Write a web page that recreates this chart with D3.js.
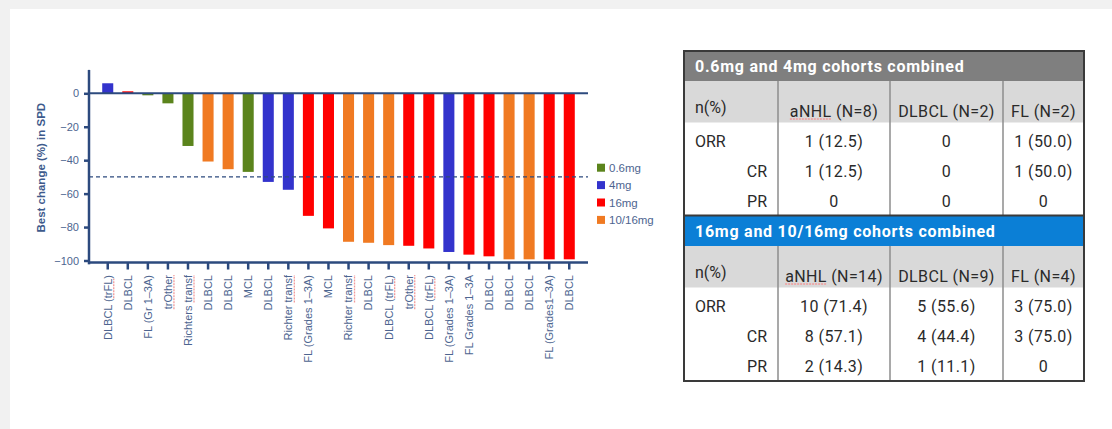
<!DOCTYPE html>
<html>
<head>
<meta charset="utf-8">
<script src="https://cdn.jsdelivr.net/npm/d3@7"></script>
<style>
html, body { margin: 0; padding: 0; background: #f1f1f1; }
svg { display: block; }
</style>
</head>
<body>
<svg id="chart" width="1112" height="429"></svg>
<script>
// waterfall data, one entry per patient
var categories = ["DLBCL (trFL)", "DLBCL", "FL (Gr 1\u20133A)", "trOther", "Richters transf", "DLBCL",
    "DLBCL", "MCL", "DLBCL", "Richter transf", "FL (Grades 1\u20133A)", "MCL", "Richter transf", "DLBCL",
    "DLBCL (trFL)", "trOther", "DLBCL (trFL)", "FL (Grades 1\u20133A)", "FL Grades 1\u20133A", "DLBCL",
    "DLBCL", "DLBCL", "FL (Grades1\u20133A)", "DLBCL"];
var cohortOf = ["4mg", "16mg", "0.6mg", "0.6mg", "0.6mg", "10/16mg", "10/16mg", "0.6mg", "4mg", "4mg",
    "16mg", "16mg", "10/16mg", "10/16mg", "10/16mg", "16mg", "16mg", "4mg", "16mg", "16mg",
    "10/16mg", "10/16mg", "16mg", "16mg"];
var bestChange = [6, 1.2, -1.2, -6, -31.5, -40.8, -45.4, -47, -53, -57.7, -73.3, -80.8, -88.8, -89.4,
    -90.8, -91.2, -92.8, -94.9, -96.5, -97.5, -99.3, -99.3, -99.3, -99.3];
var cohortNames = ["0.6mg", "4mg", "16mg", "10/16mg"];
var cohortColors = ["#5b841c", "#3333cc", "#ff0000", "#f07a22"];
var yTickValues = [0, -20, -40, -60, -80, -100];
var responseLine = -50;

// response tables
var tableColumns1 = ["aNHL (N=8)", "DLBCL (N=2)", "FL (N=2)"];
var tableColumns2 = ["aNHL (N=14)", "DLBCL (N=9)", "FL (N=4)"];
var responseRows = ["ORR", "CR", "PR"];
var tableValues1 = [["1 (12.5)", "0", "1 (50.0)"], ["1 (12.5)", "0", "1 (50.0)"], ["0", "0", "0"]];
var tableValues2 = [["10 (71.4)", "5 (55.6)", "3 (75.0)"], ["8 (57.1)", "4 (44.4)", "3 (75.0)"], ["2 (14.3)", "1 (11.1)", "0"]];

var flagged = ["trFL", "trOther", "transf", "aNHL"];   // words with the red spell-check line

var axisColor = "#2c4a7e";
var labelColor = "#4d6590";

var svg = d3.select("#chart");
svg.append("rect").attr("x", 10).attr("y", 9).attr("width", 1102).attr("height", 420).attr("fill", "#fff");

var color = d3.scaleOrdinal().domain(cohortNames).range(cohortColors);

var x = d3.scaleBand()
    .domain(d3.range(categories.length))
    .range([97.7, 579.3])
    .paddingInner(0.45)
    .paddingOuter(0.225);

var y = d3.scaleLinear().domain([-100, 0]).range([260.5, 93.3]);

var left = 89, right = 588;

// underline flagged words of an svg text node
function spellMark(parent, node, yPx, transform) {
    var s = node.textContent;
    flagged.forEach(function (w) {
        var k = s.indexOf(w);
        if (k < 0) return;
        var a = node.getStartPositionOfChar(k).x;
        var b = node.getEndPositionOfChar(k + w.length - 1).x;
        parent.append("line")
            .attr("x1", a).attr("x2", b)
            .attr("y1", yPx).attr("y2", yPx)
            .attr("transform", transform)
            .attr("stroke", "#f29b9b").attr("stroke-width", 1.3)
            .attr("stroke-dasharray", "2,1");
    });
}

// bars
svg.append("g").selectAll("rect")
    .data(bestChange)
    .enter()
    .append("rect")
    .attr("x", function (d, i) { return x(i); })
    .attr("width", x.bandwidth())
    .attr("y", function (d) { return y(Math.max(0, d)); })
    .attr("height", function (d) { return Math.abs(y(d) - y(0)); })
    .attr("fill", function (d, i) { return color(cohortOf[i]); });

// y axis
var yAxis = svg.append("g")
    .attr("transform", "translate(" + left + ",0)")
    .call(d3.axisLeft(y).tickValues(yTickValues).tickSize(5).tickPadding(5));
yAxis.select(".domain").remove();
yAxis.selectAll("line").attr("stroke", axisColor).attr("stroke-width", 2.5);
yAxis.selectAll("text")
    .attr("fill", labelColor)
    .style("font", "11px 'Liberation Sans', Arial, sans-serif");

svg.append("line")
    .attr("x1", left).attr("x2", left)
    .attr("y1", y(14)).attr("y2", y(-102.3))
    .attr("stroke", axisColor).attr("stroke-width", 2.5);

// zero line
svg.append("line")
    .attr("x1", left).attr("x2", right)
    .attr("y1", y(0)).attr("y2", y(0))
    .attr("stroke", axisColor).attr("stroke-width", 2);

// -50% line
svg.append("line")
    .attr("x1", left).attr("x2", right)
    .attr("y1", y(responseLine)).attr("y2", y(responseLine))
    .attr("stroke", axisColor).attr("stroke-width", 1.2)
    .attr("stroke-dasharray", "4,3");

// x axis
var xAxis = svg.append("g")
    .attr("transform", "translate(0," + y(-101.2) + ")")
    .call(d3.axisBottom(x).tickSize(7).tickFormat(function (i) { return categories[i]; }));
xAxis.select(".domain").remove();
xAxis.selectAll("line").attr("stroke", axisColor).attr("stroke-width", 2.5);
xAxis.selectAll("text")
    .attr("fill", labelColor)
    .style("font", "11px 'Liberation Sans', Arial, sans-serif")
    .attr("transform", "rotate(-90)")
    .attr("text-anchor", "end")
    .attr("x", -12.5)
    .attr("y", 0)
    .attr("dy", "0.35em");
xAxis.selectAll(".tick").each(function () {
    var t = d3.select(this);
    spellMark(t, t.select("text").node(), 6, "rotate(-90)");
});

svg.append("line")
    .attr("x1", left).attr("x2", right)
    .attr("y1", y(-101.2)).attr("y2", y(-101.2))
    .attr("stroke", axisColor).attr("stroke-width", 2.5);

// y title
svg.append("text")
    .attr("transform", "translate(41," + y(-44.5) + ") rotate(-90)")
    .attr("text-anchor", "middle")
    .attr("dy", "0.35em")
    .attr("fill", "#3d5a8c")
    .style("font", "bold 11.5px 'Liberation Sans', Arial, sans-serif")
    .text("Best change (%) in SPD");

// legend
var legend = svg.append("g").selectAll("g")
    .data(cohortNames)
    .enter()
    .append("g")
    .attr("transform", function (d, i) { return "translate(597," + (167.7 + i * 17.4) + ")"; });
legend.append("rect")
    .attr("x", 0).attr("y", -4).attr("width", 8).attr("height", 8)
    .attr("fill", function (d) { return color(d); });
legend.append("text")
    .attr("x", 12).attr("dy", "0.35em")
    .attr("fill", labelColor)
    .style("font", "11.5px 'Liberation Sans', Arial, sans-serif")
    .text(function (d) { return d; });

// tables
var colX = [684, 778, 890, 1003, 1084];
var tFont = "16px Roboto, 'Noto Sans', sans-serif";

function drawTable(top, bottom, band, title, cols, values) {
    var g = svg.append("g");
    g.append("rect").attr("x", colX[0]).attr("y", top).attr("width", colX[4] - colX[0]).attr("height", 30).attr("fill", band);
    g.append("text")
        .attr("x", 695).attr("y", top + 15).attr("dy", "0.35em")
        .attr("fill", "#fff")
        .style("font", "bold 16px Roboto, 'Noto Sans', sans-serif")
        .style("letter-spacing", "0.75px")
        .text(title);
    g.append("rect").attr("x", colX[0]).attr("y", top + 30).attr("width", colX[4] - colX[0]).attr("height", 41.5).attr("fill", "#d9d9d9");
    g.selectAll("line.col")
        .data(colX.slice(1, 4))
        .enter()
        .append("line")
        .attr("x1", function (d) { return d; }).attr("x2", function (d) { return d; })
        .attr("y1", top + 30).attr("y2", bottom)
        .attr("stroke", "#8c8c8c").attr("stroke-width", 1.5);
    g.append("text")
        .attr("x", 695).attr("y", top + 56).attr("dy", "0.35em")
        .attr("fill", "#2a2a2a").style("font", tFont)
        .text("n(%)");
    g.selectAll("text.head")
        .data(cols)
        .enter()
        .append("text")
        .attr("class", "head")
        .attr("x", function (d, i) { return (colX[i + 1] + colX[i + 2]) / 2; })
        .attr("y", top + 60).attr("dy", "0.35em")
        .attr("text-anchor", "middle")
        .attr("fill", "#2a2a2a").style("font", tFont)
        .style("letter-spacing", "0.4px")
        .text(function (d) { return d; })
        .each(function () {
            spellMark(g, this, top + 68, null);
        });
    var rowY = function (i) { return top + 71.5 + 4 + 14.9 + i * 29.8; };
    g.selectAll("text.row")
        .data(responseRows)
        .enter()
        .append("text")
        .attr("class", "row")
        .attr("x", function (d, i) { return i === 0 ? 695 : 767; })
        .attr("y", function (d, i) { return rowY(i); })
        .attr("dy", "0.35em")
        .attr("text-anchor", function (d, i) { return i === 0 ? "start" : "end"; })
        .attr("fill", "#2a2a2a").style("font", tFont)
        .text(function (d) { return d; });
    values.forEach(function (row, i) {
        g.selectAll(null)
            .data(row)
            .enter()
            .append("text")
            .attr("x", function (d, j) { return (colX[j + 1] + colX[j + 2]) / 2; })
            .attr("y", rowY(i)).attr("dy", "0.35em")
            .attr("text-anchor", "middle")
            .attr("fill", "#2a2a2a").style("font", tFont)
            .style("letter-spacing", "0.4px")
            .text(function (d) { return d; });
    });
}

drawTable(51, 215, "#7f7f7f", "0.6mg and 4mg cohorts combined", tableColumns1, tableValues1);
drawTable(216, 381, "#0b7fd6", "16mg and 10/16mg cohorts combined", tableColumns2, tableValues2);

svg.append("rect")
    .attr("x", colX[0]).attr("y", 51).attr("width", colX[4] - colX[0]).attr("height", 330)
    .attr("fill", "none").attr("stroke", "#3a3a3a").attr("stroke-width", 2);
svg.append("line")
    .attr("x1", colX[0]).attr("x2", colX[4]).attr("y1", 215.5).attr("y2", 215.5)
    .attr("stroke", "#3a3a3a").attr("stroke-width", 2);
</script>
</body>
</html>
